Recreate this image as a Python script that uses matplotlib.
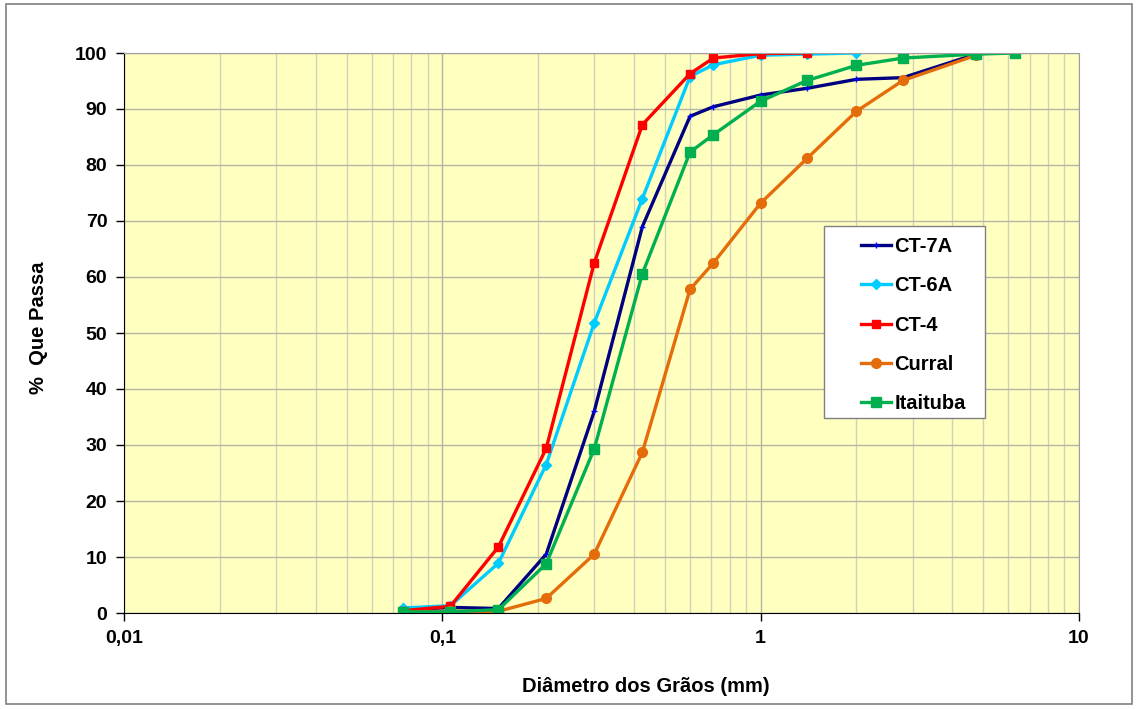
import matplotlib
matplotlib.use("Agg")
import matplotlib.pyplot as plt
from matplotlib.patches import Rectangle
from matplotlib.ticker import FixedLocator, LogLocator, NullFormatter

plt.rcParams['font.family'] = ['Liberation Sans', 'DejaVu Sans']

sieves = [0.075, 0.106, 0.15, 0.212, 0.3, 0.425, 0.6, 0.71, 1.0, 1.4, 2.0, 2.8, 4.75, 6.3]

ct7a = [0.5, 1.0, 0.8, 10.5, 36.0, 69.0, 88.7, 90.4, 92.5, 93.7, 95.3, 95.6, 99.8]
ct6a = [0.9, 1.3, 8.9, 26.5, 51.8, 74.0, 95.8, 97.9, 99.6, 99.8, 100.0]
ct4 = [0.4, 1.2, 11.8, 29.4, 62.5, 87.2, 96.3, 99.1, 99.9, 100.0]
curral = [0.2, 0.3, 0.3, 2.6, 10.5, 28.7, 57.8, 62.5, 73.2, 81.2, 89.6, 95.1, 99.6]
itaituba = [0.2, 0.2, 0.6, 8.8, 29.3, 60.6, 82.3, 85.4, 91.4, 95.1, 97.8, 99.1, 99.8, 100.0]

series = [
    ("CT-7A", ct7a, "#000080", "+", "#0000FF", 5),
    ("CT-6A", ct6a, "#00CCFF", "D", "#00CCFF", 5.5),
    ("CT-4", ct4, "#FF0000", "s", "#FF0000", 5.5),
    ("Curral", curral, "#E46C0A", "o", "#E46C0A", 7),
    ("Itaituba", itaituba, "#00B050", "s", "#00B050", 6.5),
]

W, H = 1138, 709
fig = plt.figure(figsize=(W/100, H/100), dpi=100)
fig.patches.append(Rectangle((6/W, 5/H), 1126/W, 700/H, transform=fig.transFigure,
                             fill=False, edgecolor="#808080", linewidth=1.2))
ax = fig.add_axes([124/W, 1 - 613/H, (1079 - 124)/W, (613 - 53)/H])
ax.set_facecolor("#FFFFC0")

for name, vals, col, mk, mcol, ms in series:
    ax.plot(sieves[:len(vals)], vals, color=col, linewidth=2.4, marker=mk, markersize=ms,
            markerfacecolor=mcol, markeredgecolor=mcol, label=name)

ax.set_xscale("log")
ax.set_xlim(0.01, 10)
ax.set_ylim(0, 100)
ax.xaxis.set_major_locator(FixedLocator([0.01, 0.1, 1, 10]))
ax.set_xticklabels(["0,01", "0,1", "1", "10"])
ax.xaxis.set_minor_locator(LogLocator(base=10, subs=range(2, 10)))
ax.xaxis.set_minor_formatter(NullFormatter())
ax.set_yticks(range(0, 101, 10))
ax.grid(True, which="major", color="#B4B4A8", linewidth=1.0)
ax.grid(True, which="minor", axis="x", color="#D2D2B8", linewidth=1.0)
ax.set_axisbelow(True)
ax.tick_params(axis="both", which="major", labelsize=14, length=6, width=1, direction="out")
ax.tick_params(axis="y", which="major", pad=6)
ax.tick_params(axis="x", which="major", pad=6)
ax.tick_params(axis="x", which="minor", length=0)
for lab in ax.get_xticklabels() + ax.get_yticklabels():
    lab.set_fontweight("bold")
ax.spines["left"].set_color("black")
ax.spines["bottom"].set_color("black")
ax.spines["top"].set_color("#A0A0A0")
ax.spines["right"].set_color("#A0A0A0")

fig.text(646/W, 1 - 687/H, "Diâmetro dos Grãos (mm)", fontsize=14.5, fontweight="bold",
         ha="center", va="center")
fig.text(39/W, 1 - 328/H, "%  Que Passa", fontsize=14.5, fontweight="bold",
         ha="center", va="center", rotation=90)

# legend box
box = Rectangle((824/W, 1 - 418/H), (985 - 824)/W, (418 - 226)/H,
                transform=fig.transFigure, facecolor="white",
                edgecolor="#808080", linewidth=1.0, zorder=5, clip_on=False)
ax.add_artist(box)
leg = ax.legend(loc="upper left", bbox_to_anchor=(861/W, 1 - 237/H),
                bbox_transform=fig.transFigure,
                prop={"weight": "bold", "size": 14.5}, frameon=False,
                handlelength=1.5, labelspacing=1.01, borderpad=0, handletextpad=0.15,
                borderaxespad=0)
leg.set_zorder(6)

fig.savefig("out.png", dpi=100)
